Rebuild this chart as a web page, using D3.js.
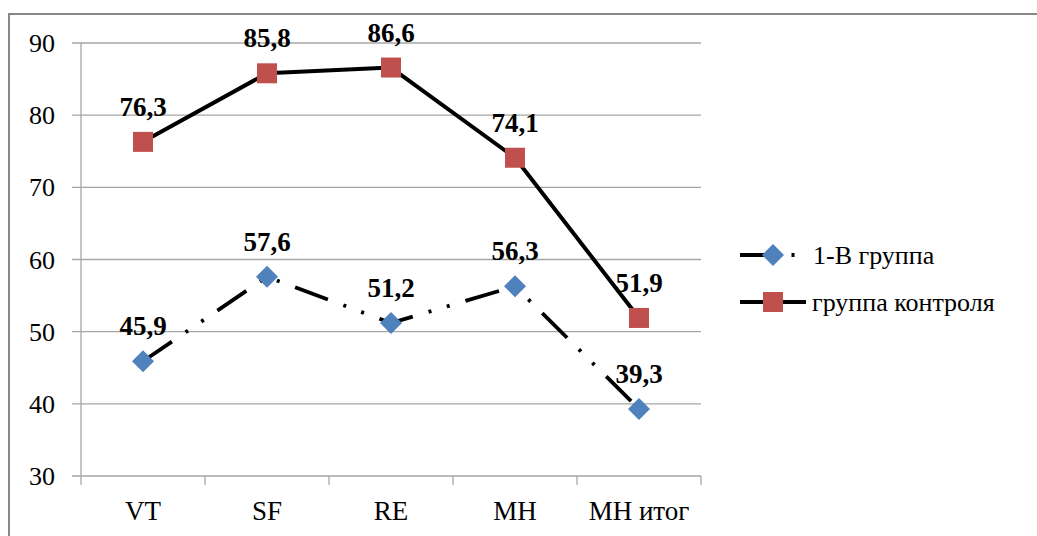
<!DOCTYPE html>
<html lang="ru">
<head>
<meta charset="utf-8">
<script src="https://cdn.jsdelivr.net/npm/d3@7"></script>
<style>
  body { margin: 0; background: #fff; font-family: "Liberation Serif", Tinos, "Times New Roman", serif; }
  svg text { font-family: "Liberation Serif", Tinos, "Times New Roman", serif !important; }
</style>
</head>
<body>
<svg id="chart" width="1037" height="536" style="display:block"></svg>
<script>
// Categories and series
const categories = ["VT", "SF", "RE", "MH", "MH итог"];
const groupB = [45.9, 57.6, 51.2, 56.3, 39.3];
const groupControl = [76.3, 85.8, 86.6, 74.1, 51.9];
const seriesNames = ["1-В группа", "группа контроля"];
const yTicks = [30, 40, 50, 60, 70, 80, 90];

const FONT = '"Liberation Serif", Tinos, "Times New Roman", serif';
const fmt = v => v.toFixed(1).replace(".", ",");

const svg = d3.select("#chart");

// Outer chart frame (runs past the right and bottom edges)
svg.append("rect")
  .attr("x", 9).attr("y", 14)
  .attr("width", 1200).attr("height", 700)
  .attr("fill", "none").attr("stroke", "#888").attr("stroke-width", 2);

const plot = { left: 81, right: 701, top: 43, bottom: 476 };

const x = d3.scaleBand().domain(categories).range([plot.left, plot.right]);
const y = d3.scaleLinear().domain([30, 90]).range([plot.bottom, plot.top]);
const cx = c => x(c) + x.bandwidth() / 2;

// Horizontal gridlines + y tick marks
svg.append("g").selectAll("line").data(yTicks).join("line")
  .attr("x1", plot.left - 9).attr("x2", plot.right)
  .attr("y1", d => y(d)).attr("y2", d => y(d))
  .attr("stroke", "#a6a6a6").attr("stroke-width", 1.3);

// Y axis line
svg.append("line")
  .attr("x1", plot.left).attr("x2", plot.left)
  .attr("y1", plot.top).attr("y2", plot.bottom + 9)
  .attr("stroke", "#a6a6a6").attr("stroke-width", 1.3);

// X category boundary ticks
const boundaries = categories.map(c => x(c)).concat([plot.right]);
svg.append("g").selectAll("line").data(boundaries.slice(1)).join("line")
  .attr("x1", d => d).attr("x2", d => d)
  .attr("y1", plot.bottom).attr("y2", plot.bottom + 9)
  .attr("stroke", "#a6a6a6").attr("stroke-width", 1.3);

// Y tick labels
svg.append("g").selectAll("text").data(yTicks).join("text")
  .attr("font-family", FONT).style("font-family", FONT)
  .attr("x", 55).attr("y", d => y(d))
  .attr("dy", "0.35em")
  .attr("text-anchor", "end")
  .attr("font-size", 26)
  .text(d => d);

// X category labels
svg.append("g").selectAll("text").data(categories).join("text")
  .attr("font-family", FONT).style("font-family", FONT)
  .attr("x", d => cx(d)).attr("y", 520)
  .attr("text-anchor", "middle")
  .attr("font-size", 27)
  .text(d => d);

const line = d3.line().x((d, i) => cx(categories[i])).y(d => y(d));
const dashPattern = "35,16.5,3,16,3,16.5";

// Control group: solid line
svg.append("path").datum(groupControl)
  .attr("d", line)
  .attr("fill", "none").attr("stroke", "#000").attr("stroke-width", 4)
  .attr("stroke-linejoin", "round");

// Group 1-B: long dash-dot-dot line
svg.append("path").datum(groupB)
  .attr("d", line)
  .attr("fill", "none").attr("stroke", "#000").attr("stroke-width", 3.8)
  .attr("stroke-dasharray", dashPattern);

const sq = 20, dm = 11;

// Square markers
svg.append("g").selectAll("rect").data(groupControl).join("rect")
  .attr("x", (d, i) => cx(categories[i]) - sq / 2)
  .attr("y", d => y(d) - sq / 2)
  .attr("width", sq).attr("height", sq)
  .attr("fill", "#C0504D");

// Diamond markers
const diamond = (px, py) => `M${px},${py - dm}L${px + dm},${py}L${px},${py + dm}L${px - dm},${py}Z`;
svg.append("g").selectAll("path").data(groupB).join("path")
  .attr("d", (d, i) => diamond(cx(categories[i]), y(d)))
  .attr("fill", "#4F81BD");

// Value labels
function labels(data) {
  svg.append("g").selectAll("text").data(data).join("text")
    .attr("font-family", FONT).style("font-family", FONT)
    .attr("x", (d, i) => cx(categories[i]))
    .attr("y", d => y(d) - 26)
    .attr("text-anchor", "middle")
    .attr("font-size", 27)
    .attr("font-weight", "bold")
    .text(d => fmt(d));
}
labels(groupControl);
labels(groupB);

// Legend
const lg = svg.append("g");
const lx0 = 740, lx1 = 806, lmx = 773;
const ly1 = 255, ly2 = 302;

lg.append("line")
  .attr("x1", lx0).attr("x2", lx1).attr("y1", ly1).attr("y2", ly1)
  .attr("stroke", "#000").attr("stroke-width", 3.8)
  .attr("stroke-dasharray", dashPattern);
lg.append("path").attr("d", diamond(lmx, ly1)).attr("fill", "#4F81BD");
lg.append("text").attr("font-family", FONT).style("font-family", FONT)
  .attr("x", 813).attr("y", ly1).attr("dy", "0.35em")
  .attr("font-size", 26).text(seriesNames[0]);

lg.append("line")
  .attr("x1", lx0).attr("x2", lx1).attr("y1", ly2).attr("y2", ly2)
  .attr("stroke", "#000").attr("stroke-width", 4);
lg.append("rect").attr("x", lmx - sq / 2).attr("y", ly2 - sq / 2)
  .attr("width", sq).attr("height", sq).attr("fill", "#C0504D");
lg.append("text").attr("font-family", FONT).style("font-family", FONT)
  .attr("x", 812).attr("y", ly2).attr("dy", "0.35em")
  .attr("font-size", 26).text(seriesNames[1]);
</script>
</body>
</html>
